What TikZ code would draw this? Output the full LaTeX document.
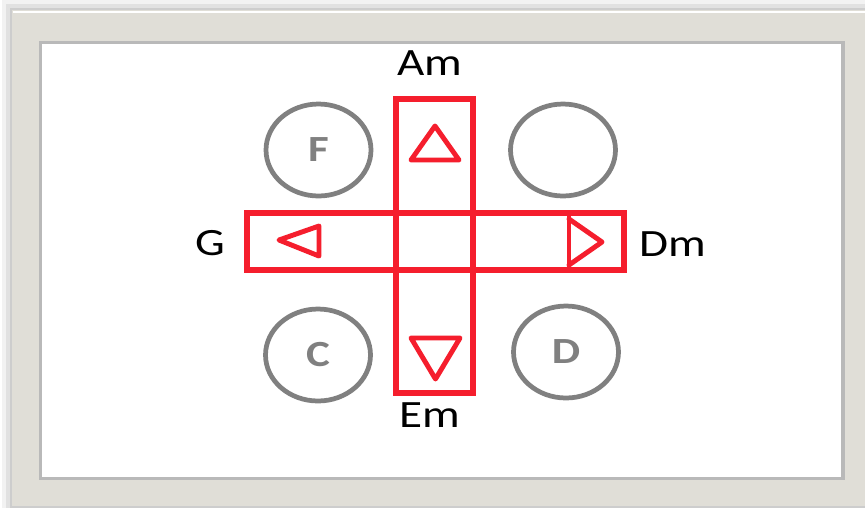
\documentclass[tikz,border=0pt]{standalone}
\usepackage{fontspec}
\usepackage{graphicx}
\setmainfont{Carlito}
\usetikzlibrary{positioning,shapes.geometric}
\definecolor{padred}{RGB}{245,30,45}
\definecolor{padgray}{RGB}{128,128,128}
\definecolor{framegray}{RGB}{224,222,215}
\definecolor{edgegray}{RGB}{185,185,185}
\newcommand{\wide}[1]{\scalebox{1.22}[1]{#1}}

\begin{document}
\begin{tikzpicture}[
    x=0.02cm, y=-0.02cm,
    bar/.style={draw=padred, line width=2.9pt, inner sep=0pt, outer sep=0pt},
    key/.style={ellipse, draw=padgray, line width=2.7pt, inner sep=0pt, minimum width=2.1cm, minimum height=1.84cm,
        text=padgray, font=\fontsize{21}{24}\selectfont\bfseries},
    chord/.style={inner sep=0pt, font=\fontsize{22}{26}\selectfont},
    tri/.style={draw=padred, line width=2.8pt, line join=round, line cap=round}
]
    \useasboundingbox (0,0) rectangle (865,508);

    % frame and its shadow
    \foreach \d/\o in {0/0.05,4/0.07,8/0.09}
        \fill[black, opacity=\o] (\d+2,\d) rectangle (865,508);
    \fill[framegray] (12,10) rectangle (865,506);
    \draw[white, line width=0.8pt] (13,12) -- (865,12);
    \fill[edgegray] (39,41) rectangle (845,480);
    \fill[white] (42,44) rectangle (841,477);

    % cross of the pad
    \node[bar, minimum width=1.54cm, minimum height=5.88cm] (vbar) at (434.5,246) {};
    \node[bar, minimum width=7.54cm, minimum height=1.14cm] (hbar) at (435.5,241.5) {};

    % arrows inside the bars
    \draw[tri] (435,126) -- (411,160) -- (459,160) -- cycle;
    \draw[tri] (411,338) -- (460,338) -- (435.5,379) -- cycle;
    \draw[tri] (279,240) -- (319,226) -- (319,256) -- cycle;
    \draw[tri] (569,219) -- (602,242) -- (569,265);
    \draw[tri] (569,214) -- (569,270);

    % chord labels
    \node[chord, above=0.46cm of vbar, xshift=-0.09cm] (am) {\wide{Am}};
    \node[chord, below=0.18cm of vbar, xshift=-0.1cm] (em) {\wide{Em}};
    \node[chord, left=0.42cm of hbar, yshift=-0.03cm] (g) {\wide{G}};
    \node[chord, right=0.3cm of hbar, yshift=-0.05cm] (dm) {\wide{Dm}};

    % round keys
    \node[key] (f) at (318.5,150) {\wide{F}};
    \node[key] (blank) at (563,150) {};
    \node[key] (c) at (318,355) {\wide{C}};
    \node[key] (d) at (566,352) {\wide{D}};
\end{tikzpicture}
\end{document}
